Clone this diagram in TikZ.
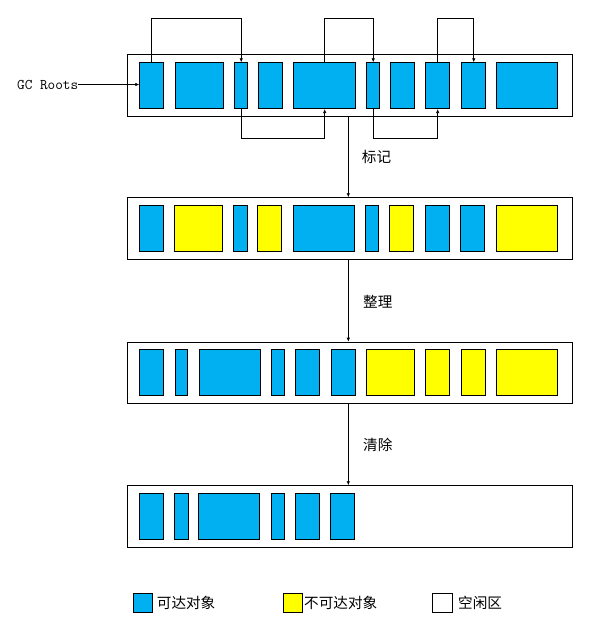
\documentclass[tikz,border=0pt]{standalone}
\usepackage{fontspec}
\newfontfamily\cjk{Noto Sans CJK SC}
\usetikzlibrary{arrows.meta}
\definecolor{objblue}{HTML}{00B0F0}
\definecolor{objyellow}{HTML}{FFFF00}
\newcommand\heapobj[6]{\node[#2, minimum width=#4pt-#3pt, minimum height=#6pt-#5pt] (#1) at (#3,#5) {};}
\begin{document}
\begin{tikzpicture}[x=1pt,y=-1pt,
  heap/.style={draw, line width=0.8pt, inner sep=0, anchor=north west},
  obj/.style={draw, line width=0.8pt, inner sep=0, anchor=north west},
  live/.style={obj, fill=objblue},
  dead/.style={obj, fill=objyellow},
  freearea/.style={obj, fill=white},
  link/.style={line width=0.7pt, -{Latex[length=4pt,width=3.5pt]}},
  lbl/.style={font=\cjk\fontsize{14.6}{16}\selectfont, anchor=west, inner sep=0}]
\useasboundingbox (0,0) rectangle (608,636);

% heaps
\heapobj{r1}{heap}{127.3}{571.7}{54.3}{116}
\heapobj{r2}{heap}{127.3}{571.7}{197.3}{259.3}
\heapobj{r3}{heap}{127.3}{571.7}{341.7}{403.3}
\heapobj{r4}{heap}{127.3}{571.7}{485.3}{547.3}
\coordinate (mx) at (348.3,0);

% row 1
\heapobj{a1}{live}{139.3}{163.3}{62.3}{108.3}
\heapobj{a2}{live}{175.3}{223.3}{62.3}{108.3}
\heapobj{a3}{live}{234.3}{247.3}{62.3}{108.3}
\heapobj{a4}{live}{258.3}{282.3}{62.3}{108.3}
\heapobj{a5}{live}{293.3}{355.3}{62.3}{108.3}
\heapobj{a6}{live}{366.3}{379.3}{62.3}{108.3}
\heapobj{a7}{live}{390.3}{414.3}{62.3}{108.3}
\heapobj{a8}{live}{425.3}{449.3}{62.3}{108.3}
\heapobj{a9}{live}{461.3}{485.3}{62.3}{108.3}
\heapobj{a10}{live}{496.3}{557.3}{62.3}{108.3}

% row 2
\heapobj{b1}{live}{139.3}{163.3}{205.3}{251.3}
\heapobj{b2}{dead}{174.3}{222.3}{205.3}{251.3}
\heapobj{b3}{live}{233.3}{246.7}{205.3}{251.3}
\heapobj{b4}{dead}{257.3}{281.3}{205.3}{251.3}
\heapobj{b5}{live}{293.3}{354.3}{205.3}{251.3}
\heapobj{b6}{live}{365.3}{378.3}{205.3}{251.3}
\heapobj{b7}{dead}{389.3}{413.3}{205.3}{251.3}
\heapobj{b8}{live}{425.3}{449.3}{205.3}{251.3}
\heapobj{b9}{live}{460.3}{484.3}{205.3}{251.3}
\heapobj{b10}{dead}{496.3}{557.3}{205.3}{251.3}

% row 3
\heapobj{c1}{live}{139.3}{163.3}{349.3}{395.3}
\heapobj{c2}{live}{175.3}{187.3}{349.3}{395.3}
\heapobj{c3}{live}{199.3}{260.3}{349.3}{395.3}
\heapobj{c4}{live}{271.3}{284.3}{349.3}{395.3}
\heapobj{c5}{live}{295.3}{319.3}{349.3}{395.3}
\heapobj{c6}{live}{331.3}{355.3}{349.3}{395.3}
\heapobj{c7}{dead}{366.3}{414.3}{349.3}{395.3}
\heapobj{c8}{dead}{425.3}{449.3}{349.3}{395.3}
\heapobj{c9}{dead}{461.3}{485.3}{349.3}{395.3}
\heapobj{c10}{dead}{496.3}{557.3}{349.3}{395.3}

% row 4
\heapobj{d1}{live}{139.3}{163.3}{493.3}{539.3}
\heapobj{d2}{live}{174.3}{187.7}{493.3}{539.3}
\heapobj{d3}{live}{198.3}{259.3}{493.3}{539.3}
\heapobj{d4}{live}{271.3}{283.7}{493.3}{539.3}
\heapobj{d5}{live}{295.3}{319.3}{493.3}{539.3}
\heapobj{d6}{live}{330.3}{354.3}{493.3}{539.3}

% references
\draw[link] (a1.north) -- ++(0,-44) -| (a3.north);
\draw[link] (a5.north) -- ++(0,-44) -| (a6.north);
\draw[link] (a8.north) -- ++(0,-44) -| (a9.north);
\draw[link] (a3.south) -- ++(0,29.4) -| (a5.south);
\draw[link] (a6.south) -- ++(0,29.4) -| (a8.south);

% GC roots
\node[font=\ttfamily\fontsize{14.8}{16}\selectfont, anchor=west, inner sep=0] (gc) at (17,84.5) {GC Roots};
\draw[link] (gc.east) -- (gc.east -| a1.west);

% steps
\draw[link] (r1.south -| mx) -- (r2.north -| mx);
\draw[link] (r2.south -| mx) -- (r3.north -| mx);
\draw[link] (r3.south -| mx) -- (r4.north -| mx);
\node[lbl] (t1) at (361.7,157) {标记};
\node[lbl] (t2) at (363,301.7) {整理};
\node[lbl] (t3) at (363,445) {清除};

% legend
\heapobj{k1}{live}{133.3}{151.7}{593.3}{612.3}
\heapobj{k2}{dead}{283.3}{301.7}{593.3}{612.3}
\heapobj{k3}{freearea}{432.3}{451.7}{593.3}{612.3}
\node[lbl] (l1) at (156.7,602.5) {可达对象};
\node[lbl] (l2) at (304,602.5) {不可达对象};
\node[lbl] (l3) at (458,602.5) {空闲区};
\end{tikzpicture}
\end{document}
